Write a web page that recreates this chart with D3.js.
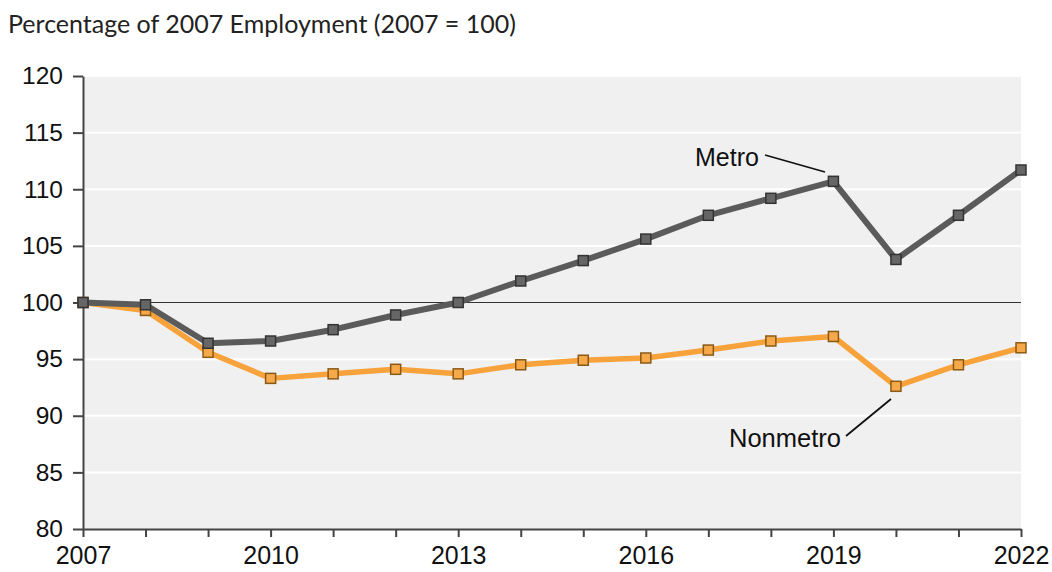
<!DOCTYPE html>
<html><head><meta charset="utf-8">
<script src="https://cdn.jsdelivr.net/npm/d3@7"></script>
<style>body{margin:0;background:#fff;}svg{display:block;}</style>
</head><body>
<svg id="c" width="1052" height="572"></svg>
<script>
const years = [2007,2008,2009,2010,2011,2012,2013,2014,2015,2016,2017,2018,2019,2020,2021,2022];
const metro = [100,99.8,96.4,96.6,97.6,98.9,100.0,101.9,103.7,105.6,107.7,109.2,110.7,103.8,107.7,111.7];
const nonmetro = [100,99.3,95.6,93.3,93.7,94.1,93.7,94.5,94.9,95.1,95.8,96.6,97.0,92.6,94.5,96.0];
const yTicks = [80,85,90,95,100,105,110,115,120];
const xLabels = [2007,2010,2013,2016,2019,2022];

const svg = d3.select("#c");
const L=83,R=1021,T=76,B=529;
const x = d3.scaleLinear().domain([2007,2022]).range([L,R]);
const y = d3.scaleLinear().domain([80,120]).range([B,T]);
const AF = "'Liberation Sans', Arial, sans-serif";

svg.append("text").attr("x",8).attr("y",33).attr("font-family","Lato, 'Open Sans', sans-serif")
  .attr("font-size",25).attr("fill","#222").text("Percentage of 2007 Employment (2007 = 100)");

svg.append("rect").attr("x",L).attr("y",T).attr("width",R-L).attr("height",B-T).attr("fill","#f0f0f0");
svg.selectAll(".grid").data(yTicks.filter(d=>d!==80&&d!==100)).join("line")
  .attr("x1",L).attr("x2",R).attr("y1",d=>y(d)).attr("y2",d=>y(d)).attr("stroke","#fff").attr("stroke-width",2);
svg.append("line").attr("x1",L).attr("x2",R).attr("y1",y(100)).attr("y2",y(100)).attr("stroke","#333").attr("stroke-width",1.2);

const yAxis = svg.append("g").attr("transform",`translate(${L},0)`)
  .call(d3.axisLeft(y).tickValues(yTicks).tickSize(10).tickPadding(10).tickSizeOuter(0));
yAxis.select(".domain").attr("stroke","#444").attr("stroke-width",2);
yAxis.selectAll(".tick line").attr("stroke","#444").attr("stroke-width",2);
yAxis.selectAll("text").attr("font-family",AF).attr("font-size",24.5).attr("fill","#111");

const xAxis = svg.append("g").attr("transform",`translate(0,${B})`)
  .call(d3.axisBottom(x).tickValues(years).tickSize(8).tickSizeOuter(0).tickFormat(d=>xLabels.includes(d)?d:""));
xAxis.select(".domain").attr("stroke","#444").attr("stroke-width",2);
xAxis.selectAll(".tick line").attr("stroke","#444").attr("stroke-width",2);
xAxis.selectAll("text").attr("font-family",AF).attr("font-size",25).attr("fill","#111").attr("dy","0.95em");

const line = d3.line().x((d,i)=>x(years[i])).y(d=>y(d));
function series(vals, color, w, mfill, mstroke){
  svg.append("path").datum(vals).attr("d",line).attr("fill","none").attr("stroke",color).attr("stroke-width",w).attr("stroke-linejoin","round");
  svg.append("g").selectAll("rect").data(vals).join("rect")
    .attr("x",(d,i)=>x(years[i])-5).attr("y",d=>y(d)-5).attr("width",10).attr("height",10)
    .attr("fill",mfill).attr("stroke",mstroke).attr("stroke-width",1.5);
}
series(nonmetro,"#f8a23c",5.5,"#f5a94a","#8a5a14");
series(metro,"#5b5b5b",6,"#666","#333");

// annotations
svg.append("text").attr("x",695).attr("y",166).attr("font-family",AF).attr("font-size",25).attr("fill","#111").text("Metro");
svg.append("line").attr("x1",765).attr("y1",155).attr("x2",825).attr("y2",172).attr("stroke","#111").attr("stroke-width",1.8);
svg.append("text").attr("x",729).attr("y",447).attr("font-family",AF).attr("font-size",25.5).attr("fill","#111").text("Nonmetro");
svg.append("line").attr("x1",846).attr("y1",436).attr("x2",891).attr("y2",399).attr("stroke","#111").attr("stroke-width",1.8);
</script>
</body></html>
